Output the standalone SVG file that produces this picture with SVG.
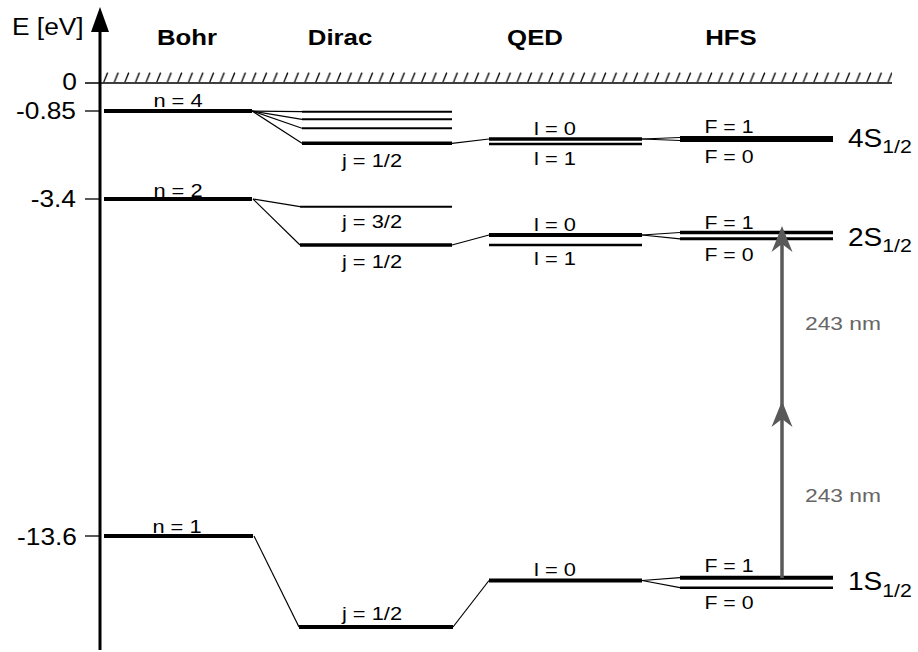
<svg xmlns="http://www.w3.org/2000/svg" width="918" height="652" viewBox="0 0 918 652">
  <defs>
    <!-- hatching above the ionisation limit -->
    <pattern id="hatch" x="103" y="72" width="10.6" height="10.5" patternUnits="userSpaceOnUse">
      <line x1="0.6" y1="10.4" x2="4.6" y2="0.6" stroke="#000" stroke-width="1.3"/>
    </pattern>
    <!-- concave head for the two-photon arrow -->
    <marker id="head" markerUnits="userSpaceOnUse" markerWidth="30" markerHeight="24" refX="-7" refY="0" orient="auto" overflow="visible">
      <path d="M7,0 L-19,-10.5 L-11,0 L-19,10.5 Z" fill="#595959"/>
    </marker>
  </defs>
  <style>
    .lv { stroke: #000; fill: none; }
    .w4 { stroke-width: 4; }
    .w35 { stroke-width: 3.5; }
    .w3 { stroke-width: 3; }
    .w25 { stroke-width: 2.5; }
    .w2 { stroke-width: 2; }
    .cn { stroke: #000; stroke-width: 1.2; fill: none; }
    text { font-family: "Liberation Sans", Arial, Helvetica, sans-serif; fill: #000; }
    .ax { font-size: 23.5px; }
    .hd { font-size: 23px; font-weight: bold; }
    .lb { font-size: 19px; }
    .st { font-size: 25px; }
    .sub { font-size: 19px; }
    .nm { font-size: 19px; fill: #666; }
  </style>

  <rect width="918" height="652" fill="#fff"/>

  <!-- energy axis -->
  <g id="axis">
    <line x1="100" y1="30" x2="100" y2="650" stroke="#000" stroke-width="3"/>
    <polygon points="100,7 91,32 109,32" fill="#000"/>
    <line x1="85" y1="83" x2="892" y2="83" stroke="#000" stroke-width="1.5"/>
    <rect x="103" y="72" width="789" height="10.5" fill="url(#hatch)"/>
    <line x1="85" y1="111" x2="100" y2="111" stroke="#000" stroke-width="1.3"/>
    <line x1="85" y1="199" x2="100" y2="199" stroke="#000" stroke-width="1.3"/>
    <line x1="85" y1="536" x2="100" y2="536" stroke="#000" stroke-width="1.3"/>
    <text class="ax" transform="translate(12 35) scale(1.12 1)">E [eV]</text>
    <text class="ax" text-anchor="end" transform="translate(77 90) scale(1.12 1)">0</text>
    <text class="ax" text-anchor="end" transform="translate(76 119) scale(1.12 1)">-0.85</text>
    <text class="ax" text-anchor="end" transform="translate(76 206.5) scale(1.12 1)">-3.4</text>
    <text class="ax" text-anchor="end" transform="translate(77 545) scale(1.12 1)">-13.6</text>
  </g>

  <!-- column headings -->
  <g id="headings">
    <text class="hd" text-anchor="middle" transform="translate(187 45) scale(1.12 1)">Bohr</text>
    <text class="hd" text-anchor="middle" transform="translate(340 45) scale(1.12 1)">Dirac</text>
    <text class="hd" text-anchor="middle" transform="translate(535 45) scale(1.12 1)">QED</text>
    <text class="hd" text-anchor="middle" transform="translate(731 45) scale(1.12 1)">HFS</text>
  </g>

  <!-- connectors between the columns -->
  <g id="connectors">
    <line class="cn" x1="252" y1="111" x2="302" y2="111.7"/>
    <line class="cn" x1="252" y1="111" x2="302" y2="119.3"/>
    <line class="cn" x1="252" y1="111" x2="302" y2="128.3"/>
    <line class="cn" x1="252" y1="111" x2="302" y2="143.3"/>
    <line class="cn" x1="253" y1="199" x2="300" y2="206.7"/>
    <line class="cn" x1="253" y1="199" x2="300" y2="245"/>
    <line class="cn" x1="254" y1="536" x2="299" y2="627"/>
    <line class="cn" x1="452" y1="143.3" x2="489" y2="139"/>
    <line class="cn" x1="452" y1="245" x2="489" y2="235"/>
    <line class="cn" x1="453" y1="627" x2="489" y2="580.5"/>
    <line class="cn" x1="642" y1="139" x2="680" y2="137.5"/>
    <line class="cn" x1="642" y1="139" x2="680" y2="140.5"/>
    <line class="cn" x1="642" y1="235" x2="680" y2="232.5"/>
    <line class="cn" x1="642" y1="235" x2="680" y2="238.8"/>
    <line class="cn" x1="642" y1="580.5" x2="680" y2="577.7"/>
    <line class="cn" x1="642" y1="580.5" x2="680" y2="587.7"/>
  </g>

  <!-- Bohr levels -->
  <g id="bohr-n4">
    <line class="lv w4" x1="104" y1="111" x2="252" y2="111"/>
    <text class="lb" text-anchor="middle" transform="translate(178 106.5) scale(1.15 1)">n = 4</text>
  </g>
  <g id="bohr-n2">
    <line class="lv w4" x1="104" y1="199" x2="252" y2="199"/>
    <text class="lb" text-anchor="middle" transform="translate(178 196.5) scale(1.15 1)">n = 2</text>
  </g>
  <g id="bohr-n1">
    <line class="lv w4" x1="104" y1="536" x2="253" y2="536"/>
    <text class="lb" text-anchor="middle" transform="translate(177 533) scale(1.15 1)">n = 1</text>
  </g>

  <!-- Dirac levels -->
  <g id="dirac-n4">
    <line class="lv w2" x1="302" y1="111.7" x2="452" y2="111.7"/>
    <line class="lv w2" x1="302" y1="119.3" x2="452" y2="119.3"/>
    <line class="lv w2" x1="302" y1="128.3" x2="452" y2="128.3"/>
    <line class="lv w35" x1="302" y1="143.3" x2="452" y2="143.3"/>
    <text class="lb" text-anchor="middle" transform="translate(372 167) scale(1.15 1)">j = 1/2</text>
  </g>
  <g id="dirac-n2">
    <line class="lv w2" x1="300" y1="206.7" x2="452" y2="206.7"/>
    <line class="lv w35" x1="300" y1="245" x2="452" y2="245"/>
    <text class="lb" text-anchor="middle" transform="translate(372 228) scale(1.15 1)">j = 3/2</text>
    <text class="lb" text-anchor="middle" transform="translate(372 268) scale(1.15 1)">j = 1/2</text>
  </g>
  <g id="dirac-n1">
    <line class="lv w4" x1="299" y1="627" x2="453" y2="627"/>
    <text class="lb" text-anchor="middle" transform="translate(372 620) scale(1.15 1)">j = 1/2</text>
  </g>

  <!-- QED levels -->
  <g id="qed-n4">
    <line class="lv w35" x1="489" y1="139" x2="642" y2="139"/>
    <line class="lv w25" x1="489" y1="144" x2="642" y2="144"/>
    <text class="lb" text-anchor="middle" transform="translate(555 135) scale(1.15 1)">l = 0</text>
    <text class="lb" text-anchor="middle" transform="translate(555 165) scale(1.15 1)">l = 1</text>
  </g>
  <g id="qed-n2">
    <line class="lv w4" x1="489" y1="235" x2="642" y2="235"/>
    <line class="lv w25" x1="489" y1="245" x2="642" y2="245"/>
    <text class="lb" text-anchor="middle" transform="translate(555 231) scale(1.15 1)">l = 0</text>
    <text class="lb" text-anchor="middle" transform="translate(555 265) scale(1.15 1)">l = 1</text>
  </g>
  <g id="qed-n1">
    <line class="lv w4" x1="489" y1="580.5" x2="642" y2="580.5"/>
    <text class="lb" text-anchor="middle" transform="translate(555 576) scale(1.15 1)">l = 0</text>
  </g>

  <!-- hyperfine levels -->
  <g id="hfs-4s">
    <line class="lv w3" x1="680" y1="137.5" x2="833" y2="137.5"/>
    <line class="lv w3" x1="680" y1="140.5" x2="833" y2="140.5"/>
    <text class="lb" text-anchor="middle" transform="translate(729 133) scale(1.12 1)">F = 1</text>
    <text class="lb" text-anchor="middle" transform="translate(729 163) scale(1.12 1)">F = 0</text>
    <text class="st" transform="translate(848 147) scale(1.12 1)">4S<tspan class="sub" dy="6">1/2</tspan></text>
  </g>
  <g id="hfs-2s">
    <line class="lv w35" x1="680" y1="232.5" x2="833" y2="232.5"/>
    <line class="lv w3" x1="680" y1="238.8" x2="833" y2="238.8"/>
    <text class="lb" text-anchor="middle" transform="translate(729 229) scale(1.12 1)">F = 1</text>
    <text class="lb" text-anchor="middle" transform="translate(729 261) scale(1.12 1)">F = 0</text>
    <text class="st" transform="translate(848 245.5) scale(1.12 1)">2S<tspan class="sub" dy="6">1/2</tspan></text>
  </g>
  <g id="hfs-1s">
    <line class="lv w4" x1="680" y1="577.7" x2="833" y2="577.7"/>
    <line class="lv w25" x1="680" y1="587.7" x2="833" y2="587.7"/>
    <text class="lb" text-anchor="middle" transform="translate(729 572) scale(1.12 1)">F = 1</text>
    <text class="lb" text-anchor="middle" transform="translate(729 609) scale(1.12 1)">F = 0</text>
    <text class="st" transform="translate(848 590) scale(1.12 1)">1S<tspan class="sub" dy="7">1/2</tspan></text>
  </g>

  <!-- two-photon 1S-2S excitation -->
  <g id="two-photon">
    <polyline points="782,578 782,415 782,240" fill="none" stroke="#595959" stroke-width="3.5" marker-mid="url(#head)" marker-end="url(#head)"/>
    <text class="nm" transform="translate(805 330) scale(1.2 1)">243 nm</text>
    <text class="nm" transform="translate(805 502) scale(1.2 1)">243 nm</text>
  </g>
</svg>
